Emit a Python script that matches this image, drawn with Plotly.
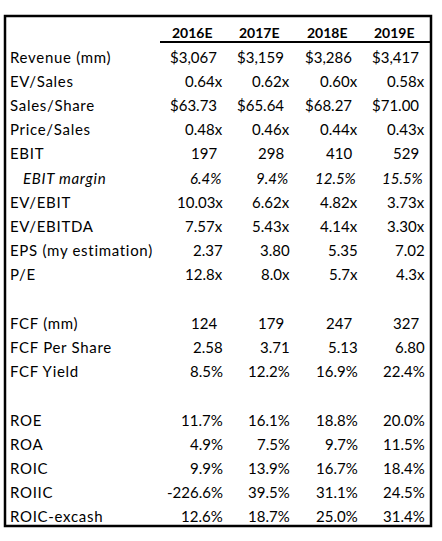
import plotly.graph_objects as go

years = ["2016E", "2017E", "2018E", "2019E"]

row_labels = ["Revenue (mm)", "EV/Sales", "Sales/Share", "Price/Sales", "EBIT",
              "EBIT margin", "EV/EBIT", "EV/EBITDA", "EPS (my estimation)", "P/E",
              None,
              "FCF (mm)", "FCF Per Share", "FCF Yield",
              None,
              "ROE", "ROA", "ROIC", "ROIIC", "ROIC-excash"]

revenue = [3067, 3159, 3286, 3417]
ev_sales = [0.64, 0.62, 0.60, 0.58]
sales_share = [63.73, 65.64, 68.27, 71.00]
price_sales = [0.48, 0.46, 0.44, 0.43]
ebit = [197, 298, 410, 529]
ebit_margin = [6.4, 9.4, 12.5, 15.5]
ev_ebit = [10.03, 6.62, 4.82, 3.73]
ev_ebitda = [7.57, 5.43, 4.14, 3.30]
eps = [2.37, 3.80, 5.35, 7.02]
pe = [12.8, 8.0, 5.7, 4.3]
fcf = [124, 179, 247, 327]
fcf_per_share = [2.58, 3.71, 5.13, 6.80]
fcf_yield = [8.5, 12.2, 16.9, 22.4]
roe = [11.7, 16.1, 18.8, 20.0]
roa = [4.9, 7.5, 9.7, 11.5]
roic = [9.9, 13.9, 16.7, 18.4]
roiic = [-226.6, 39.5, 31.1, 24.5]
roic_excash = [12.6, 18.7, 25.0, 31.4]

# (values, format, right-offset class)
rows = [
    (revenue, "${:,.0f}", "pad"),
    (ev_sales, "{:.2f}x", "full"),
    (sales_share, "${:,.2f}", "pad"),
    (price_sales, "{:.2f}x", "full"),
    (ebit, "{:,.0f}", "pad"),
    (ebit_margin, "{:.1f}%", "ital"),
    (ev_ebit, "{:.2f}x", "full"),
    (ev_ebitda, "{:.2f}x", "full"),
    (eps, "{:.2f}", "full"),
    (pe, "{:.1f}x", "full"),
    None,
    (fcf, "{:,.0f}", "pad"),
    (fcf_per_share, "{:.2f}", "full"),
    (fcf_yield, "{:.1f}%", "full"),
    None,
    (roe, "{:.1f}%", "full"),
    (roa, "{:.1f}%", "full"),
    (roic, "{:.1f}%", "full"),
    (roiic, "{:.1f}%", "full"),
    (roic_excash, "{:.1f}%", "full"),
]

W, H = 442, 541
FONT = "Lato"
FS = 15
col_right = [225 + 67.3 * i for i in range(4)]
offsets = {"full": 0, "pad": 6, "ital": 2}
header_y = 32.5
row0_y = 56.5
pitch = 24.2
LS = "letter-spacing:0.7px"

ann = []
for i, y in enumerate(years):
    ann.append(dict(x=col_right[i] - 10, y=header_y, text="<b>%s</b>" % y,
                    xanchor="right", yanchor="middle", showarrow=False,
                    font=dict(family=FONT, size=14, color="#000")))

for k, lab in enumerate(row_labels):
    if lab is None:
        continue
    yy = row0_y + pitch * k
    vals, fmt, cls = rows[k]
    italic = cls == "ital"
    txt = '<span style="%s">%s</span>' % (LS, lab)
    ann.append(dict(x=21 if italic else 8, y=yy,
                    text=("<i>%s</i>" % txt) if italic else txt,
                    xanchor="left", yanchor="middle", showarrow=False,
                    font=dict(family=FONT, size=FS, color="#000")))
    for i, v in enumerate(vals):
        t = fmt.format(v)
        if italic:
            t = "<i>%s</i>" % t
        ann.append(dict(x=col_right[i] - offsets[cls], y=yy, text=t,
                        xanchor="right", yanchor="middle", showarrow=False,
                        font=dict(family=FONT, size=FS, color="#000")))

shapes = [
    dict(type="rect", x0=5, x1=431, y0=16, y1=526, xref="x", yref="y",
         line=dict(color="#000", width=2.5), fillcolor="rgba(0,0,0,0)"),
    dict(type="line", x0=160, x1=431, y0=42, y1=42, xref="x", yref="y",
         line=dict(color="#000", width=2)),
]

fig = go.Figure()
fig.update_layout(
    width=W, height=H, margin=dict(l=0, r=0, t=0, b=0),
    paper_bgcolor="white", plot_bgcolor="white",
    xaxis=dict(range=[0, W], visible=False, fixedrange=True),
    yaxis=dict(range=[H, 0], visible=False, fixedrange=True),
    annotations=ann, shapes=shapes, showlegend=False,
)
fig.write_html("out.html", config={"displayModeBar": False},
               post_script="document.body.style.margin='0';document.body.style.overflow='hidden';")
